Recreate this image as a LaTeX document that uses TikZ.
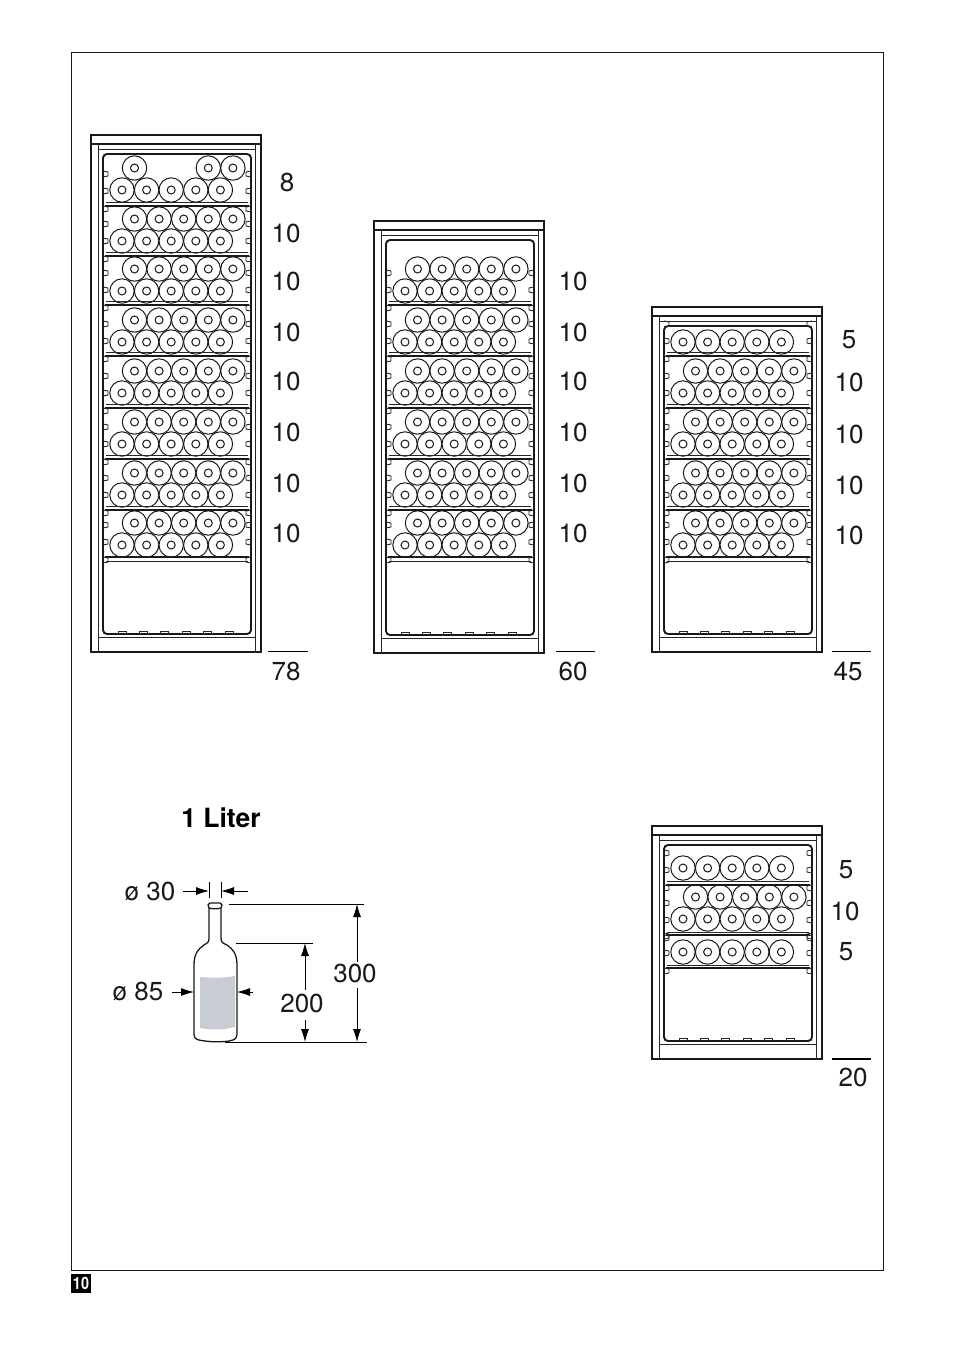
\documentclass[tikz,border=0pt]{standalone}
\usepackage{fontspec}
\setmainfont{TeX Gyre Heros}
\usetikzlibrary{arrows.meta}
\definecolor{labelgrey}{RGB}{200,204,212}
\tikzset{
  wheel/.style={draw=black!90,line width=1pt,fill=white},
  wall/.style={draw=black!90,line width=2pt},
  thinwall/.style={draw=black!85,line width=0.9pt},
  dimline/.style={draw=black,line width=0.8pt},
  dimarrow/.style={draw=black,line width=0.8pt,-{Latex[length=13pt,width=8pt]}},
  numlabel/.style={font=\fontsize{26}{26}\selectfont,text=black!90,inner sep=0pt},
}
% one pair of rows, given by their heights
\newcommand{\lowrow}[1]{
  \foreach \k in {0,...,4} {
    \draw[wheel] (122+24.6*\k,#1) circle (12.2pt);
    \draw[wheel] (122+24.6*\k,#1) circle (4pt);
  }
}
\newcommand{\uprow}[1]{
  \foreach \k in {0,...,4} {
    \draw[wheel] (134.5+24.6*\k,#1) circle (12.2pt);
    \draw[wheel] (134.5+24.6*\k,#1) circle (4pt);
  }
}
\newcommand{\sidetab}[1]{
  \draw[thinwall] (103,#1-3) -- (108,#1-2) -- (108,#1+2) -- (103,#1+3);
  \draw[thinwall] (251,#1-3) -- (246,#1-2) -- (246,#1+2) -- (251,#1+3);
}
\newcommand{\shelf}[2]{
  \draw[thinwall] (106,#2) -- (248,#2);
  \draw[line width=1.9pt,black!90] (105,#1) -- (249,#1);
  \sidetab{#1-32}
  \sidetab{#1-15}
  \sidetab{#1+3}
}
% housing with top band, inner walls and foot tabs
\newcommand{\housing}[2]{
  \draw[wall] (91,#1) rectangle (261,#2);
  \draw[line width=1.4pt,black!90] (91,#1+9) -- (261,#1+9);
  \draw[thinwall] (98,#1+9) -- (98,#2);
  \draw[thinwall] (255,#1+9) -- (255,#2);
  \draw[thinwall] (98,#1+14) -- (255,#1+14);
  \draw[thinwall] (98,#2-15) -- (255,#2-15);
  \draw[line width=1.9pt,black!90,rounded corners=4pt] (103,#1+19) rectangle (251,#2-18);
  \foreach \k in {0,...,5} {
    \draw[thinwall] (118+21.4*\k,#2-18) -- (118+21.4*\k,#2-21) -- (126+21.4*\k,#2-21) -- (126+21.4*\k,#2-18);
  }
}
\begin{document}
\begin{tikzpicture}[x=1pt,y=-1pt]
\useasboundingbox (0,0) rectangle (954,1354);
\draw[line width=1pt,black!90] (71,52.6) rectangle (883.6,1270.6);
\node[fill=black,text=white,font=\fontsize{17}{17}\bfseries\addfontfeature{FakeStretch=0.85}\selectfont,minimum width=20pt,minimum height=19pt,inner sep=0pt] (pagemark) at (81,1283) {10};

% tall cabinet
\housing{135}{652}
\foreach \k in {0,3,4} {
  \draw[wheel] (134.5+24.6*\k,168) circle (12.2pt);
  \draw[wheel] (134.5+24.6*\k,168) circle (4pt);
}
\lowrow{190}
\foreach \u/\l in {219/241,269/291,320/342,371/393,422/444,473/495,523/545} {
  \uprow{\u}
  \lowrow{\l}
}
\foreach \s in {206,256,305,356,408,459,510} {
  \shelf{\s}{\s-4}
}
\shelf{557}{561}
\node[numlabel] (countA) at (287,182) {8};
\node[numlabel] (countB) at (286,233) {10};
\node[numlabel] (countC) at (286,281) {10};
\node[numlabel] (countD) at (286,332) {10};
\node[numlabel] (countE) at (286,381) {10};
\node[numlabel] (countF) at (286,432) {10};
\node[numlabel] (countG) at (286,483) {10};
\node[numlabel] (countH) at (286,533) {10};
\coordinate (ruleAa) at (268,651);
\coordinate (ruleAb) at (308,651);
\draw[dimline] (ruleAa) -- (ruleAb);
\node[numlabel] (totalA) at (286,671) {78};

% middle cabinet
\begin{scope}[xshift=283pt]
\housing{221}{653}
\foreach \u/\l in {269/291,320/342,371/393,422/444,473/495,523/545} {
  \uprow{\u}
  \lowrow{\l}
}
\foreach \s in {305,356,408,459,510} {
  \shelf{\s}{\s-4}
}
\shelf{557}{561}
\end{scope}
\node[numlabel] (countI) at (573,281) {10};
\node[numlabel] (countJ) at (573,332) {10};
\node[numlabel] (countK) at (573,381) {10};
\node[numlabel] (countL) at (573,432) {10};
\node[numlabel] (countM) at (573,483) {10};
\node[numlabel] (countN) at (573,533) {10};
\coordinate (ruleBa) at (556,651);
\coordinate (ruleBb) at (595,651);
\draw[dimline] (ruleBa) -- (ruleBb);
\node[numlabel] (totalB) at (573,671) {60};

% low cabinet
\begin{scope}[xshift=561pt]
\housing{307}{652}
\lowrow{342}
\foreach \u/\l in {371/393,422/444,473/495,523/545} {
  \uprow{\u}
  \lowrow{\l}
}
\foreach \s in {356,408,459,510} {
  \shelf{\s}{\s-4}
}
\shelf{557}{561}
\end{scope}
\node[numlabel] (countO) at (849,340) {5};
\node[numlabel] (countP) at (849,382) {10};
\node[numlabel] (countQ) at (849,434) {10};
\node[numlabel] (countR) at (849,485) {10};
\node[numlabel] (countS) at (849,535) {10};
\coordinate (ruleCa) at (832,651);
\coordinate (ruleCb) at (871,651);
\draw[dimline] (ruleCa) -- (ruleCb);
\node[numlabel] (totalC) at (848,671) {45};

% small cabinet
\begin{scope}[xshift=561pt]
\housing{826}{1059}
\lowrow{868}
\uprow{897}
\lowrow{919}
\lowrow{952}
\shelf{885}{881}
\shelf{935}{932}
\shelf{968}{965}
\end{scope}
\node[numlabel] (countT) at (846,870) {5};
\node[numlabel] (countU) at (845,911) {10};
\node[numlabel] (countV) at (846,952) {5};
\coordinate (ruleDa) at (832,1059);
\coordinate (ruleDb) at (871,1059);
\draw[line width=1.4pt] (ruleDa) -- (ruleDb);
\node[numlabel] (totalD) at (853,1077) {20};

% bottle
\node[font=\fontsize{26.5}{26.5}\bfseries\selectfont,inner sep=0pt] (title) at (221,818) {1 Liter};
\fill[labelgrey] (200,977) .. controls (212,978) and (224,978) .. (235,976) -- (235,1027) .. controls (224,1030) and (212,1030) .. (200,1028) -- cycle;
\draw[line width=1.3pt,black!90,line join=round]
  (209,908) -- (209,938) .. controls (209,943) and (207,943) .. (204,945)
  .. controls (198,949) and (194,954) .. (194,965) -- (194,1034)
  .. controls (194,1040) and (198,1040) .. (205,1041) .. controls (212,1042) and (222,1042) .. (229,1041)
  .. controls (234,1040) and (237,1039) .. (237,1034) -- (237,965)
  .. controls (237,954) and (233,949) .. (227,945)
  .. controls (223,943) and (221,943) .. (221,938) -- (221,908)
  .. controls (223,906) and (222,903) .. (220,903) -- (210,903)
  .. controls (208,903) and (207,906) .. (209,908)
  .. controls (212,909) and (218,909) .. (221,908);

% dimensions
\coordinate (neckL) at (209,882);
\coordinate (neckLb) at (209,898);
\coordinate (neckR) at (221,882);
\coordinate (neckRb) at (221,898);
\coordinate (neckInL) at (209,891);
\coordinate (neckOutL) at (183,891);
\coordinate (neckInR) at (221,891);
\coordinate (neckOutR) at (248,891);
\draw[dimline] (neckL) -- (neckLb);
\draw[dimline] (neckR) -- (neckRb);
\draw[dimarrow] (neckOutL) -- (neckInL);
\draw[dimarrow] (neckOutR) -- (neckInR);
\node[numlabel] (neckdim) at (150,891) {ø 30};

\coordinate (bodyInL) at (194,992);
\coordinate (bodyOutL) at (172,992);
\coordinate (bodyInR) at (237,992);
\coordinate (bodyOutR) at (253,992);
\draw[dimarrow] (bodyOutL) -- (bodyInL);
\draw[dimarrow] (bodyOutR) -- (bodyInR);
\node[numlabel] (bodydim) at (138,991) {ø 85};

\coordinate (topL) at (229,904);
\coordinate (topR) at (364,904);
\coordinate (midL) at (236,943);
\coordinate (midR) at (313,943);
\coordinate (baseL) at (225,1042);
\coordinate (baseR) at (367,1042);
\draw[dimline] (topL) -- (topR);
\draw[dimline] (midL) -- (midR);
\draw[dimline] (baseL) -- (baseR);

\node[numlabel] (heightA) at (355,973) {300};
\node[numlabel] (heightB) at (302,1003) {200};
\coordinate (arrA) at (357,904);
\coordinate (arrAa) at (357,962);
\coordinate (arrAb) at (357,988);
\coordinate (arrAc) at (357,1042);
\draw[dimarrow] (arrAa) -- (arrA);
\draw[dimarrow] (arrAb) -- (arrAc);
\coordinate (arrB) at (305,943);
\coordinate (arrBa) at (305,990);
\coordinate (arrBb) at (305,1020);
\coordinate (arrBc) at (305,1042);
\draw[dimarrow] (arrBa) -- (arrB);
\draw[dimarrow] (arrBb) -- (arrBc);
\end{tikzpicture}
\end{document}
